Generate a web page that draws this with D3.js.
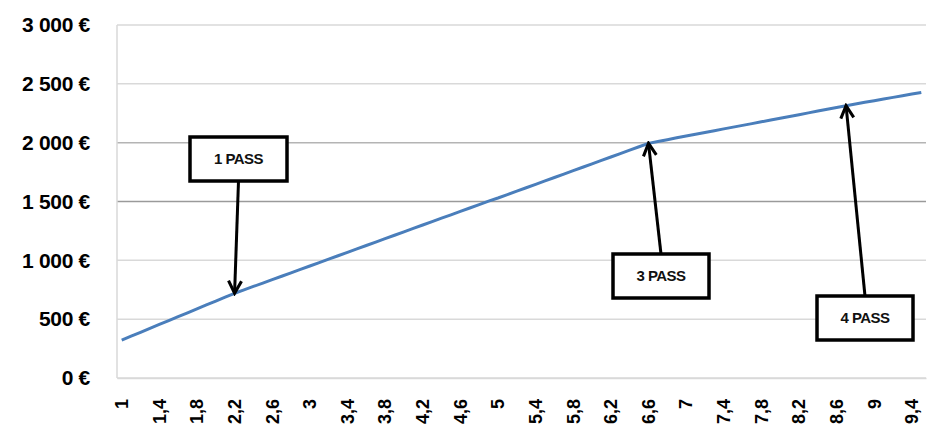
<!DOCTYPE html>
<html>
<head>
<meta charset="utf-8">
<script src="https://cdn.jsdelivr.net/npm/d3@7/dist/d3.min.js"></script>
<style>
  html, body { margin: 0; padding: 0; background: #fff; }
  svg { display: block; }
  text { font-family: "Liberation Sans", Arial, sans-serif; }
</style>
</head>
<body>
<svg id="chart" width="928" height="427"></svg>
<script>
// Multiples on the x axis (step 0.1)
const categories = [
  1.0, 1.1, 1.2, 1.3, 1.4, 1.5, 1.6, 1.7, 1.8, 1.9,
  2.0, 2.1, 2.2, 2.3, 2.4, 2.5, 2.6, 2.7, 2.8, 2.9,
  3.0, 3.1, 3.2, 3.3, 3.4, 3.5, 3.6, 3.7, 3.8, 3.9,
  4.0, 4.1, 4.2, 4.3, 4.4, 4.5, 4.6, 4.7, 4.8, 4.9,
  5.0, 5.1, 5.2, 5.3, 5.4, 5.5, 5.6, 5.7, 5.8, 5.9,
  6.0, 6.1, 6.2, 6.3, 6.4, 6.5, 6.6, 6.7, 6.8, 6.9,
  7.0, 7.1, 7.2, 7.3, 7.4, 7.5, 7.6, 7.7, 7.8, 7.9,
  8.0, 8.1, 8.2, 8.3, 8.4, 8.5, 8.6, 8.7, 8.8, 8.9,
  9.0, 9.1, 9.2, 9.3, 9.4, 9.5
];

// Amount in euros for each category
const amounts = [
  322, 355, 388, 422, 455, 488, 521, 554, 588, 621,
  654, 687, 720, 749, 778, 807, 836, 865, 894, 923,
  952, 981, 1010, 1039, 1068, 1097, 1126, 1155, 1184, 1213,
  1242, 1271, 1300, 1329, 1358, 1387, 1416, 1445, 1474, 1503,
  1530, 1559, 1588, 1617, 1646, 1675, 1704, 1733, 1762, 1791,
  1820, 1849, 1878, 1907, 1936, 1965, 1994, 2010, 2025, 2041,
  2056, 2071, 2086, 2101, 2117, 2132, 2147, 2162, 2177, 2193,
  2208, 2223, 2238, 2253, 2269, 2284, 2299, 2314, 2329, 2343,
  2357, 2371, 2385, 2399, 2413, 2427
];

// Y axis ticks (euros)
const yTicks = [0, 500, 1000, 1500, 2000, 2500, 3000];

// Annotations: label and the category each arrow points at
const noteLabels = ["1 PASS", "3 PASS", "4 PASS"];
const noteCategories = [2.2, 6.6, 8.7];

// Layout
const plot = { left: 117, right: 926, top: 25, bottom: 378 };
// Box centres for each annotation (pixels)
const noteBoxes = [
  { cx: 238.5, cy: 159, w: 97, h: 44 },
  { cx: 661, cy: 276, w: 96, h: 44 },
  { cx: 865, cy: 318, w: 96, h: 44 }
];

const svg = d3.select("#chart");

const x = d3.scaleBand()
  .domain(categories)
  .range([plot.left, plot.right])
  .paddingInner(0).paddingOuter(0);
const cx = c => x(c) + x.bandwidth() / 2;

const y = d3.scaleLinear()
  .domain([0, 3000])
  .range([plot.bottom, plot.top]);

const fmtNum = v => d3.format(",")(v).replace(/,/g, "\u00a0");
const fmtEuro = v => fmtNum(v) + "\u00a0€";
const fmtCat = v => String(+v.toFixed(1)).replace(".", ",");

// Horizontal gridlines
const gridColor = v => v === 1500 ? "#9a9a9a" : (v === 2000 ? "#b4b4b4" : "#d9d9d9");
svg.append("g")
  .selectAll("line")
  .data(yTicks)
  .join("line")
  .attr("x1", plot.left).attr("x2", plot.right)
  .attr("y1", d => y(d)).attr("y2", d => y(d))
  .attr("stroke", gridColor)
  .attr("stroke-width", 1.5);

// Left axis line
svg.append("line")
  .attr("x1", plot.left).attr("x2", plot.left)
  .attr("y1", plot.top).attr("y2", plot.bottom)
  .attr("stroke", "#d9d9d9").attr("stroke-width", 1.5);

// Y axis labels
const yAxis = d3.axisLeft(y).tickValues(yTicks).tickFormat(fmtEuro).tickSize(0).tickPadding(0);
const gy = svg.append("g")
  .attr("transform", `translate(${plot.left - 27},0)`)
  .call(yAxis);
gy.select(".domain").remove();
gy.selectAll("text")
  .attr("fill", "#000")
  .attr("font-size", 21)
  .attr("font-weight", "bold")
  .attr("letter-spacing", "-0.3")
  .style("font-family", "'Liberation Sans', Arial, sans-serif");

// X axis labels (every 4th category), rotated
const xLabelCats = categories.filter((c, i) => i % 4 === 0);
const xAxis = d3.axisBottom(x).tickValues(xLabelCats).tickFormat(fmtCat).tickSize(0).tickPadding(0);
const gx = svg.append("g")
  .attr("transform", `translate(0,${plot.bottom})`)
  .call(xAxis);
gx.select(".domain")
  .attr("stroke", "#d9d9d9").attr("stroke-width", 1.5);
gx.selectAll("text")
  .attr("fill", "#000")
  .attr("font-size", 18)
  .attr("font-weight", "bold")
  .attr("text-anchor", "end")
  .attr("dy", "0.35em")
  .attr("y", 0)
  .attr("transform", "translate(0,21) rotate(-90)")
  .attr("x", 0)
  .style("font-family", "'Liberation Sans', Arial, sans-serif");

// Data line
const line = d3.line()
  .x((d, i) => cx(categories[i]))
  .y(d => y(d));
svg.append("path")
  .datum(amounts)
  .attr("d", line)
  .attr("fill", "none")
  .attr("stroke", "#4a7ebb")
  .attr("stroke-width", 3)
  .attr("stroke-linejoin", "round");

// Arrow marker (open chevron)
svg.append("defs").append("marker")
  .attr("id", "arrowhead")
  .attr("viewBox", "0 0 14 14")
  .attr("refX", 12).attr("refY", 7)
  .attr("markerWidth", 5.5).attr("markerHeight", 5.5)
  .attr("markerUnits", "strokeWidth")
  .attr("orient", "auto")
  .append("path")
  .attr("d", "M1.5,1.5 L12,7 L1.5,12.5")
  .attr("fill", "none")
  .attr("stroke", "#000")
  .attr("stroke-width", 2.6)
  .attr("stroke-linejoin", "miter");

// Annotations: arrow from box edge to the data point, then the box
const notes = noteLabels.map((label, i) => {
  const c = noteCategories[i];
  const idx = categories.indexOf(c);
  return { label, tx: cx(c), ty: y(amounts[idx]), box: noteBoxes[i] };
});

const gNotes = svg.append("g");
notes.forEach(n => {
  const b = n.box;
  const startY = n.ty > b.cy ? b.cy + b.h / 2 : b.cy - b.h / 2;
  gNotes.append("line")
    .attr("x1", b.cx).attr("y1", startY)
    .attr("x2", n.tx).attr("y2", n.ty)
    .attr("stroke", "#000")
    .attr("stroke-width", 3)
    .attr("marker-end", "url(#arrowhead)");
  gNotes.append("rect")
    .attr("x", b.cx - b.w / 2).attr("y", b.cy - b.h / 2)
    .attr("width", b.w).attr("height", b.h)
    .attr("fill", "#fff")
    .attr("stroke", "#000")
    .attr("stroke-width", 3.5);
  gNotes.append("text")
    .attr("x", b.cx).attr("y", b.cy)
    .attr("dy", "0.35em")
    .attr("text-anchor", "middle")
    .attr("font-size", 15)
    .attr("font-weight", "bold")
    .attr("letter-spacing", "-0.5")
    .attr("fill", "#111")
    .text(n.label);
});
</script>
</body>
</html>
